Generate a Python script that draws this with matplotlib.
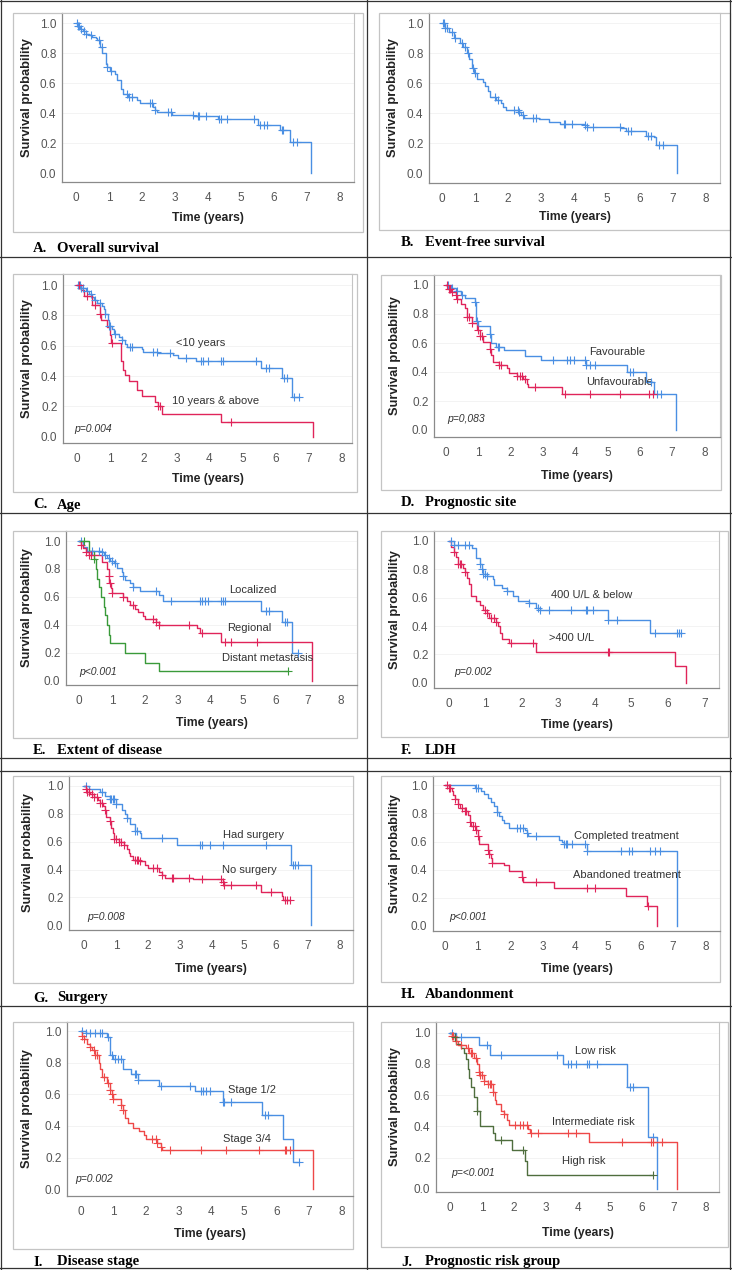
import numpy as np
import matplotlib
matplotlib.use("Agg")
import matplotlib.pyplot as plt
from matplotlib.patches import Rectangle
from matplotlib.lines import Line2D

W, H = 732, 1270

# ===== DATA (Kaplan-Meier step curves) =====
# each curve: step times, survival from that time on, censor times
a_t = [0, 0.05, 0.12, 0.2, 0.3, 0.4, 0.5, 0.6, 0.65, 0.72, 0.8, 0.9, 0.93, 1.03, 1.18, 1.26, 1.36, 1.44, 1.59, 1.84,
       1.94, 2.35, 2.4, 2.47, 2.91, 3.56, 4.32, 5.54, 6.2, 6.5, 7.13]
a_s = [1.0, 0.98, 0.96, 0.95, 0.93, 0.92, 0.91, 0.9, 0.89, 0.84, 0.8, 0.73, 0.71, 0.68, 0.66, 0.62, 0.56, 0.53, 0.51,
       0.49, 0.47, 0.44, 0.42, 0.41, 0.39, 0.38, 0.36, 0.32, 0.29, 0.21, 0.0]
a_c = [0.02, 0.05, 0.08, 0.15, 0.25, 0.3, 0.45, 0.7, 0.78, 0.95, 1.05, 1.55, 1.62, 1.7, 2.25, 2.32, 2.4, 2.8, 2.88,
       3.55, 3.7, 3.75, 3.95, 4.35, 4.4, 4.6, 5.4, 5.6, 5.7, 5.8, 6.25, 6.3, 6.6, 6.7]

b_t = [0, 0.08, 0.2, 0.35, 0.55, 0.65, 0.75, 0.82, 0.92, 0.98, 1.05, 1.25, 1.3, 1.4, 1.45, 1.65, 1.8, 1.85, 1.95,
       2.35, 2.4, 2.5, 2.95, 3.25, 3.6, 4.35, 4.4, 5.45, 5.6, 6.2, 6.45, 6.5, 7.13]
b_s = [1.0, 0.97, 0.94, 0.9, 0.87, 0.84, 0.8, 0.76, 0.7, 0.67, 0.63, 0.61, 0.58, 0.55, 0.51, 0.49, 0.47, 0.44, 0.42,
       0.41, 0.39, 0.37, 0.36, 0.34, 0.33, 0.32, 0.31, 0.3, 0.28, 0.25, 0.24, 0.19, 0.0]
b_c = [0.02, 0.05, 0.1, 0.15, 0.3, 0.4, 0.6, 0.7, 0.78, 0.95, 1.0, 1.6, 1.7, 2.2, 2.3, 2.35, 2.45, 2.75, 2.85, 3.7,
       3.75, 3.95, 4.35, 4.4, 4.6, 5.4, 5.65, 5.75, 6.25, 6.35, 6.6, 6.7]

c_young_t = [0, 0.1, 0.25, 0.35, 0.45, 0.5, 0.6, 0.75, 0.8, 0.85, 0.92, 0.95, 1.05, 1.1, 1.25, 1.35, 1.45, 1.5, 1.95,
             2.0, 2.45, 2.9, 3.05, 3.6, 5.55, 6.2, 6.5, 6.7]
c_young_s = [1.0, 0.98, 0.96, 0.94, 0.92, 0.9, 0.88, 0.86, 0.84, 0.81, 0.77, 0.73, 0.71, 0.68, 0.66, 0.64, 0.61, 0.59,
             0.58, 0.56, 0.55, 0.54, 0.52, 0.5, 0.45, 0.39, 0.26, 0.26]
c_young_c = [0.03, 0.08, 0.12, 0.18, 0.3, 0.4, 0.55, 0.7, 0.85, 0.95, 1.0, 1.15, 1.35, 1.6, 1.65, 2.3, 2.4, 2.8, 3.3,
             3.75, 3.8, 3.95, 4.35, 4.4, 5.4, 5.7, 5.8, 6.25, 6.35, 6.55, 6.7]
c_old_t = [0, 0.1, 0.2, 0.45, 0.68, 0.72, 0.9, 1.0, 1.02, 1.33, 1.38, 1.45, 1.55, 1.82, 1.95, 2.35, 2.45, 2.55, 4.35,
           7.13]
c_old_s = [1.0, 0.97, 0.93, 0.87, 0.81, 0.77, 0.72, 0.67, 0.62, 0.5, 0.44, 0.41, 0.37, 0.31, 0.27, 0.23, 0.2, 0.15,
           0.1, 0.0]
c_old_c = [0.05, 0.3, 0.55, 0.7, 1.05, 2.45, 2.5, 4.65]

d_fav_t = [0, 0.15, 0.3, 0.45, 0.6, 0.9, 0.93, 1.0, 1.35, 1.4, 1.55, 1.8, 2.45, 2.95, 4.35, 5.6, 6.2, 6.45, 7.13]
d_fav_s = [1.0, 0.98, 0.96, 0.93, 0.91, 0.88, 0.75, 0.72, 0.66, 0.6, 0.57, 0.55, 0.51, 0.48, 0.45, 0.4, 0.33, 0.25,
           0.0]
d_fav_c = [0.05, 0.2, 0.35, 0.5, 0.9, 0.95, 1.35, 1.6, 1.65, 3.3, 3.75, 3.85, 3.95, 4.3, 4.35, 4.45, 4.6, 5.7, 5.8,
           6.35, 6.55, 6.65]
d_unf_t = [0, 0.05, 0.15, 0.3, 0.35, 0.45, 0.6, 0.65, 0.8, 0.95, 1.05, 1.15, 1.35, 1.4, 1.45, 1.65, 1.9, 1.95, 2.2,
           2.4, 2.5, 2.55, 3.6, 6.4]
d_unf_s = [1.0, 0.97, 0.95, 0.93, 0.9, 0.87, 0.84, 0.78, 0.74, 0.69, 0.65, 0.61, 0.56, 0.52, 0.47, 0.45, 0.43, 0.39,
           0.37, 0.35, 0.32, 0.3, 0.25, 0.25]
d_unf_c = [0.03, 0.08, 0.12, 0.2, 0.3, 0.35, 0.65, 0.7, 0.8, 1.0, 1.05, 1.1, 1.35, 1.65, 1.7, 2.2, 2.3, 2.35, 2.45,
           2.75, 3.7, 4.45, 5.4, 6.3, 6.4]

e_loc_t = [0, 0.12, 0.25, 0.7, 0.75, 0.85, 0.95, 1.05, 1.15, 1.3, 1.35, 1.4, 1.55, 1.65, 1.85, 2.45, 2.55, 5.55, 6.2,
           6.5, 6.7]
e_loc_s = [1.0, 0.96, 0.93, 0.92, 0.9, 0.88, 0.86, 0.84, 0.81, 0.78, 0.75, 0.72, 0.7, 0.67, 0.64, 0.61, 0.57, 0.5,
           0.42, 0.2, 0.2]
e_loc_c = [0.05, 0.4, 0.6, 0.7, 0.8, 0.9, 1.0, 1.1, 1.35, 1.65, 2.35, 2.8, 3.7, 3.75, 3.85, 3.95, 4.35, 4.4, 4.45,
           5.7, 5.8, 6.3, 6.35, 6.7]
e_reg_t = [0, 0.05, 0.1, 0.2, 0.3, 0.7, 0.85, 0.9, 0.92, 0.97, 1.0, 1.35, 1.45, 1.55, 1.7, 1.8, 1.95, 2.0, 2.35, 2.45,
           3.6, 3.7, 4.35, 7.13]
e_reg_s = [1.0, 0.97, 0.95, 0.92, 0.9, 0.85, 0.8, 0.75, 0.7, 0.66, 0.63, 0.6, 0.57, 0.54, 0.51, 0.49, 0.46, 0.44,
           0.42, 0.4, 0.38, 0.34, 0.28, 0.0]
e_reg_c = [0.05, 0.2, 0.3, 0.35, 0.9, 0.95, 1.0, 1.35, 1.65, 2.25, 2.35, 2.45, 3.35, 3.75, 4.45, 4.65, 5.45]
e_met_t = [0, 0.3, 0.45, 0.5, 0.55, 0.6, 0.65, 0.75, 0.8, 0.85, 0.9, 0.95, 1.4, 2.0, 2.45, 6.4]
e_met_s = [1.0, 0.93, 0.87, 0.8, 0.73, 0.67, 0.6, 0.53, 0.47, 0.4, 0.33, 0.27, 0.2, 0.13, 0.07, 0.07]
e_met_c = [0.15, 0.45, 6.4]

f_low_t = [0, 0.15, 0.65, 0.75, 0.85, 0.9, 0.95, 1.05, 1.2, 1.25, 1.45, 1.6, 1.75, 1.9, 2.2, 2.4, 2.5, 4.35, 5.5,
           6.35]
f_low_s = [1.0, 0.97, 0.95, 0.88, 0.84, 0.8, 0.77, 0.75, 0.73, 0.69, 0.67, 0.65, 0.61, 0.58, 0.56, 0.53, 0.51, 0.44,
           0.35, 0.35]
f_low_c = [0.05, 0.15, 0.25, 0.45, 0.55, 0.85, 0.9, 0.95, 1.0, 1.05, 1.6, 2.2, 2.45, 2.5, 2.75, 3.35, 3.75, 3.8,
           3.95, 4.35, 4.6, 5.65, 6.25, 6.3, 6.35]
f_high_t = [0, 0.05, 0.15, 0.2, 0.25, 0.4, 0.45, 0.5, 0.55, 0.6, 0.62, 0.75, 0.85, 0.95, 1.05, 1.1, 1.3, 1.35, 1.4,
            1.45, 1.65, 2.4, 6.2, 6.5]
f_high_s = [1.0, 0.96, 0.92, 0.89, 0.84, 0.81, 0.78, 0.74, 0.7, 0.67, 0.61, 0.58, 0.55, 0.51, 0.49, 0.46, 0.43, 0.4,
            0.35, 0.31, 0.28, 0.22, 0.12, 0.0]
f_high_c = [0.15, 0.25, 0.3, 0.35, 0.45, 1.0, 1.05, 1.15, 1.25, 1.3, 1.7, 2.3, 4.35, 4.4]

g_yes_t = [0, 0.15, 0.5, 0.65, 0.8, 1.0, 1.2, 1.3, 1.35, 1.45, 1.6, 1.75, 1.8, 2.9, 6.5, 7.12]
g_yes_s = [1.0, 0.98, 0.96, 0.93, 0.91, 0.87, 0.83, 0.8, 0.77, 0.73, 0.68, 0.66, 0.63, 0.58, 0.43, 0.0]
g_yes_c = [0.05, 0.55, 0.8, 0.85, 0.9, 0.95, 1.0, 1.35, 1.6, 1.65, 2.45, 3.65, 3.7, 3.95, 4.35, 5.7, 6.55, 6.6, 6.7]
g_no_t = [0, 0.05, 0.1, 0.2, 0.3, 0.45, 0.5, 0.6, 0.65, 0.7, 0.8, 0.85, 0.9, 0.95, 1.1, 1.25, 1.35, 1.4, 1.45, 1.55,
          1.75, 1.9, 2.0, 2.35, 2.45, 2.55, 3.4, 4.35, 4.4, 5.55, 6.2, 6.25, 6.45]
g_no_s = [1.0, 0.98, 0.96, 0.94, 0.92, 0.9, 0.88, 0.86, 0.83, 0.78, 0.75, 0.7, 0.66, 0.62, 0.6, 0.58, 0.55, 0.52, 0.5,
          0.47, 0.46, 0.43, 0.41, 0.38, 0.36, 0.34, 0.33, 0.31, 0.29, 0.24, 0.21, 0.18, 0.18]
g_no_c = [0.05, 0.1, 0.15, 0.25, 0.3, 0.4, 0.5, 0.55, 0.65, 0.8, 0.95, 1.0, 1.1, 1.15, 1.25, 1.6, 1.65, 1.7, 1.75,
          2.15, 2.3, 2.45, 2.75, 2.8, 3.3, 3.7, 4.3, 4.35, 4.4, 4.6, 5.4, 5.85, 6.3, 6.35, 6.45]

h_comp_t = [0, 0.9, 1.1, 1.2, 1.3, 1.4, 1.5, 1.6, 1.65, 1.75, 1.8, 1.95, 2.45, 2.5, 2.55, 3.5, 3.6, 3.65, 4.35, 7.12]
h_comp_s = [1.0, 0.98, 0.96, 0.94, 0.91, 0.88, 0.85, 0.81, 0.78, 0.75, 0.73, 0.7, 0.68, 0.66, 0.64, 0.61, 0.6, 0.58,
            0.53, 0.0]
h_comp_c = [0.95, 1.0, 1.6, 2.2, 2.3, 2.4, 2.5, 2.8, 3.65, 3.7, 3.75, 3.9, 4.3, 4.35, 5.4, 5.65, 5.75, 6.3, 6.45, 6.6]
h_aban_t = [0, 0.1, 0.2, 0.25, 0.3, 0.4, 0.45, 0.6, 0.7, 0.75, 0.8, 0.95, 1.0, 1.05, 1.3, 1.35, 1.4, 1.45, 1.8, 1.95,
            2.35, 2.4, 3.35, 5.55, 6.2, 6.5]
h_aban_s = [1.0, 0.98, 0.96, 0.93, 0.9, 0.87, 0.84, 0.82, 0.79, 0.74, 0.71, 0.68, 0.64, 0.58, 0.54, 0.51, 0.48, 0.45,
            0.43, 0.39, 0.35, 0.31, 0.27, 0.21, 0.14, 0.0]
h_aban_c = [0.05, 0.1, 0.15, 0.3, 0.4, 0.5, 0.6, 0.65, 0.75, 0.85, 0.9, 0.95, 1.0, 1.3, 1.35, 1.45, 2.35, 2.8, 4.35,
            4.6, 6.25]

i_early_t = [0, 0.15, 0.8, 0.9, 1.0, 1.3, 1.55, 1.75, 2.4, 3.5, 4.35, 5.55, 6.2, 6.5, 6.7]
i_early_s = [1.0, 0.99, 0.96, 0.85, 0.82, 0.76, 0.73, 0.69, 0.65, 0.62, 0.55, 0.47, 0.32, 0.17, 0.17]
i_early_c = [0.05, 0.15, 0.3, 0.45, 0.6, 0.65, 0.85, 0.95, 1.05, 1.15, 1.25, 1.65, 1.7, 1.75, 2.45, 3.35, 3.7, 3.75,
             3.85, 3.95, 4.35, 4.4, 4.6, 5.65, 5.75, 6.7]
i_late_t = [0, 0.05, 0.1, 0.2, 0.3, 0.35, 0.45, 0.55, 0.6, 0.65, 0.8, 0.9, 0.95, 1.0, 1.25, 1.3, 1.35, 1.45, 1.6,
            1.8, 1.95, 2.0, 2.35, 2.45, 2.5, 7.13]
i_late_s = [1.0, 0.97, 0.95, 0.92, 0.9, 0.88, 0.85, 0.8, 0.76, 0.71, 0.67, 0.63, 0.6, 0.57, 0.53, 0.5, 0.45, 0.42,
            0.39, 0.37, 0.34, 0.32, 0.29, 0.27, 0.25, 0.0]
i_late_c = [0.05, 0.1, 0.3, 0.4, 0.45, 0.5, 0.7, 0.85, 0.9, 0.95, 1.0, 1.25, 1.3, 2.2, 2.3, 2.35, 2.45, 2.75, 3.7,
            4.45, 5.45, 6.25, 6.3, 6.4]

j_low_t = [0, 0.2, 0.9, 1.25, 3.55, 5.55, 6.2, 6.5]
j_low_s = [1.0, 0.97, 0.92, 0.86, 0.8, 0.65, 0.33, 0.0]
j_low_c = [0.05, 0.35, 1.15, 1.6, 3.35, 3.7, 3.8, 3.95, 4.3, 4.35, 4.6, 5.65, 5.75, 6.35]
j_int_t = [0, 0.05, 0.15, 0.25, 0.5, 0.6, 0.75, 0.85, 0.9, 0.95, 1.05, 1.2, 1.35, 1.4, 1.45, 1.6, 1.7, 1.8, 1.85,
           2.45, 2.5, 4.35, 7.12]
j_int_s = [1.0, 0.98, 0.95, 0.92, 0.9, 0.87, 0.84, 0.8, 0.75, 0.73, 0.69, 0.67, 0.62, 0.57, 0.54, 0.5, 0.48, 0.44,
           0.41, 0.38, 0.36, 0.3, 0.0]
j_int_c = [0.05, 0.1, 0.2, 0.35, 0.55, 0.65, 0.7, 0.8, 0.9, 0.95, 1.0, 1.05, 1.2, 1.25, 1.3, 1.35, 1.7, 2.05, 2.2,
           2.3, 2.4, 2.55, 2.75, 3.7, 3.95, 5.4, 6.3, 6.35, 6.65]
j_high_t = [0, 0.1, 0.2, 0.35, 0.45, 0.5, 0.55, 0.6, 0.65, 0.75, 0.85, 0.95, 1.35, 1.4, 1.95, 2.35, 2.4, 6.35]
j_high_s = [1.0, 0.97, 0.93, 0.9, 0.87, 0.83, 0.77, 0.71, 0.65, 0.59, 0.5, 0.4, 0.36, 0.31, 0.25, 0.18, 0.09, 0.09]
j_high_c = [0.15, 0.85, 1.6, 2.3, 6.35]

# ===== STYLE =====
BLUE = "#4a8fe3"
CRIMSON = "#e0245a"
RED = "#ee4848"
GREEN = "#3a9a3a"
OLIVE = "#4f6e3e"

# panel layout in pixels: frame box, axes box, tick anchors (x of 0, x of xmax, y of 1.0, y of 0.0)
panels = [
    dict(letter="A.", title="Overall survival", frame=(13, 13, 363, 232), axes=(62, 13, 354, 182),
         anchors=(76, 339.3, 23.3, 173.3), xmax=8, cap_y=248, ylab_x=27, xlab_y=218,
         curves=[(a_t, a_s, a_c, BLUE)], labels=[], pval=None),
    dict(letter="B.", title="Event-free survival", frame=(379, 13, 730, 230), axes=(429, 13, 720, 183),
         anchors=(442, 705.3, 23.3, 173.3), xmax=8, cap_y=243, ylab_x=393, xlab_y=217,
         curves=[(b_t, b_s, b_c, BLUE)], labels=[], pval=None),
    dict(letter="C.", title="Age", frame=(13, 274, 357, 492), axes=(63, 274, 352, 443),
         anchors=(77.3, 341.7, 285, 436.7), xmax=8, cap_y=505, ylab_x=27, xlab_y=479,
         curves=[(c_young_t, c_young_s, c_young_c, BLUE), (c_old_t, c_old_s, c_old_c, CRIMSON)],
         labels=[("<10 years", 3.0, 0.615), ("10 years & above", 2.86, 0.237)], pval=("p=0.004", -0.1, 0.05)),
    dict(letter="D.", title="Prognostic site", frame=(381, 275, 721, 490), axes=(434, 275, 720, 437),
         anchors=(446, 704.3, 285, 430), xmax=8, cap_y=503, ylab_x=395, xlab_y=476,
         curves=[(d_fav_t, d_fav_s, d_fav_c, BLUE), (d_unf_t, d_unf_s, d_unf_c, CRIMSON)],
         labels=[("Favourable", 4.44, 0.535), ("Unfavourable", 4.33, 0.333)], pval=("p=0,083", 0.03, 0.076)),
    dict(letter="E.", title="Extent of disease", frame=(13, 531, 357, 738), axes=(66, 531, 357, 685),
         anchors=(79.3, 340.7, 541, 680.7), xmax=8, cap_y=751, ylab_x=27, xlab_y=723,
         curves=[(e_loc_t, e_loc_s, e_loc_c, BLUE), (e_reg_t, e_reg_s, e_reg_c, CRIMSON),
                 (e_met_t, e_met_s, e_met_c, GREEN)],
         labels=[("Localized", 4.6, 0.65), ("Regional", 4.51, 0.375), ("Distant metastasis", 4.36, 0.165)],
         pval=("p<0.001", 0.0, 0.06)),
    dict(letter="F.", title="LDH", frame=(381, 531, 728, 737), axes=(434, 531, 719, 688),
         anchors=(448.7, 704.3, 541, 682.7), xmax=7, cap_y=751, ylab_x=395, xlab_y=725,
         curves=[(f_low_t, f_low_s, f_low_c, BLUE), (f_high_t, f_high_s, f_high_c, CRIMSON)],
         labels=[("400 U/L & below", 2.8, 0.62), (">400 U/L", 2.74, 0.313)], pval=("p=0.002", 0.15, 0.073)),
    dict(letter="G.", title="Surgery", frame=(13, 776, 353, 983), axes=(69, 776, 353, 930),
         anchors=(84, 339.3, 786, 925.3), xmax=8, cap_y=998, ylab_x=28, xlab_y=969,
         curves=[(g_yes_t, g_yes_s, g_yes_c, BLUE), (g_no_t, g_no_s, g_no_c, CRIMSON)],
         labels=[("Had surgery", 4.34, 0.646), ("No surgery", 4.31, 0.395)], pval=("p=0.008", 0.1, 0.06)),
    dict(letter="H.", title="Abandonment", frame=(381, 776, 720, 982), axes=(433, 776, 720, 931),
         anchors=(445.3, 705.3, 785.3, 926), xmax=8, cap_y=995, ylab_x=395, xlab_y=969,
         curves=[(h_comp_t, h_comp_s, h_comp_c, BLUE), (h_aban_t, h_aban_s, h_aban_c, CRIMSON)],
         labels=[("Completed treatment", 3.97, 0.64), ("Abandoned treatment", 3.94, 0.365)],
         pval=("p<0.001", 0.12, 0.064)),
    dict(letter="I.", title="Disease stage", frame=(13, 1022, 353, 1249), axes=(67, 1022, 353, 1196),
         anchors=(80.7, 341.7, 1031, 1189.3), xmax=8, cap_y=1262, ylab_x=27, xlab_y=1234,
         curves=[(i_early_t, i_early_s, i_early_c, BLUE), (i_late_t, i_late_s, i_late_c, RED)],
         labels=[("Stage 1/2", 4.5, 0.63), ("Stage 3/4", 4.35, 0.32)], pval=("p=0.002", -0.17, 0.063)),
    dict(letter="J.", title="Prognostic risk group", frame=(381, 1022, 728, 1247), axes=(436, 1022, 719, 1192),
         anchors=(450, 705.3, 1032.7, 1188.7), xmax=8, cap_y=1262, ylab_x=395, xlab_y=1233,
         curves=[(j_low_t, j_low_s, j_low_c, BLUE), (j_int_t, j_int_s, j_int_c, RED),
                 (j_high_t, j_high_s, j_high_c, OLIVE)],
         labels=[("Low risk", 3.93, 0.88), ("Intermediate risk", 3.2, 0.425), ("High risk", 3.5, 0.18)],
         pval=("p=<0.001", 0.03, 0.1)),
]


def fx(px):
    return px / W


def fy(px):
    return 1 - px / H


def step_value(times, surv, t):
    idx = np.searchsorted(times, t, side="right") - 1
    return np.asarray(surv)[np.clip(idx, 0, len(surv) - 1)]


fig = plt.figure(figsize=(W / 100, H / 100), dpi=100)
fig.patch.set_facecolor("white")

for p in panels:
    fl, ft, fr, fb = p["frame"]
    fig.add_artist(Rectangle((fx(fl), fy(fb)), fx(fr - fl), (fb - ft) / H, transform=fig.transFigure,
                             facecolor="white", edgecolor="#c4c4c4", lw=0.9, zorder=0))

    al, at, ar, ab = p["axes"]
    ax = fig.add_axes([fx(al), fy(ab), fx(ar - al), (ab - at) / H])
    x0, x1, y1, y0 = p["anchors"]
    xs = p["xmax"] / (x1 - x0)
    ax.set_xlim((al - x0) * xs, (ar - x0) * xs)
    ys = 1 / (y0 - y1)
    ax.set_ylim((y0 - ab) * ys, (y0 - at) * ys)

    for yv in [0.2, 0.4, 0.6, 0.8, 1.0]:
        ax.axhline(yv, color="#f1f1f1", lw=0.6, zorder=0)

    for t, s, c, col in p["curves"]:
        ax.step(t, s, where="post", color=col, lw=1.0, zorder=3)
        ax.plot(c, step_value(t, s, c), ls="none", marker="+", ms=5.5, mew=0.8, color=col, zorder=4)

    for txt, tx, ty in p["labels"]:
        ax.text(tx, ty, txt, fontsize=8, color="#333333", va="center", ha="left", family="Liberation Sans")
    if p["pval"] is not None:
        txt, tx, ty = p["pval"]
        ax.text(tx, ty, txt, fontsize=7.5, style="italic", color="#333333", va="center", ha="left",
                family="Liberation Sans")

    ax.set_xticks(range(0, p["xmax"] + 1))
    ax.set_yticks([0, 0.2, 0.4, 0.6, 0.8, 1.0])
    ax.set_yticklabels(["0.0", "0.2", "0.4", "0.6", "0.8", "1.0"])
    ax.tick_params(length=0, labelsize=8.5, labelcolor="#555555")
    ax.tick_params(axis="x", pad=7)
    ax.tick_params(axis="y", pad=4)
    for lab in ax.get_xticklabels() + ax.get_yticklabels():
        lab.set_family("Liberation Sans")

    for side in ["left", "bottom"]:
        ax.spines[side].set_color("#8a8a8a")
        ax.spines[side].set_linewidth(0.9)
    for side in ["top", "right"]:
        ax.spines[side].set_color("#c4c4c4")
        ax.spines[side].set_linewidth(0.8)

    ax.set_ylabel("Survival probability", fontsize=9.3, fontweight="bold", color="#222222",
                  family="Liberation Sans")
    ax.yaxis.set_label_coords((p["ylab_x"] - al) / (ar - al), 0.5)
    ax.yaxis.label.set_va("center")
    ax.set_xlabel("Time (years)", fontsize=8.8, fontweight="bold", color="#222222", family="Liberation Sans")
    ax.xaxis.set_label_coords(0.5, -(p["xlab_y"] - ab) / (ab - at))
    ax.xaxis.label.set_va("center")

    # caption under the frame
    left_col = fl < 200
    lx = 33 if left_col else 401
    fig.text(fx(lx), fy(p["cap_y"]), p["letter"], fontsize=10.5, fontweight="bold", family="Liberation Serif",
             va="center", ha="left")
    fig.text(fx(lx + 24), fy(p["cap_y"]), p["title"], fontsize=10.5, fontweight="bold", family="Liberation Serif",
             va="center", ha="left")

# table borders
for yy in [1, 257, 513, 758, 771, 1006, 1268]:
    fig.add_artist(Line2D([0, 1], [fy(yy), fy(yy)], transform=fig.transFigure, color="#333333", lw=0.9))
for xx in [1, 367, 730]:
    fig.add_artist(Line2D([fx(xx), fx(xx)], [0, 1], transform=fig.transFigure, color="#333333", lw=0.9))

fig.savefig("out.png", dpi=100)
